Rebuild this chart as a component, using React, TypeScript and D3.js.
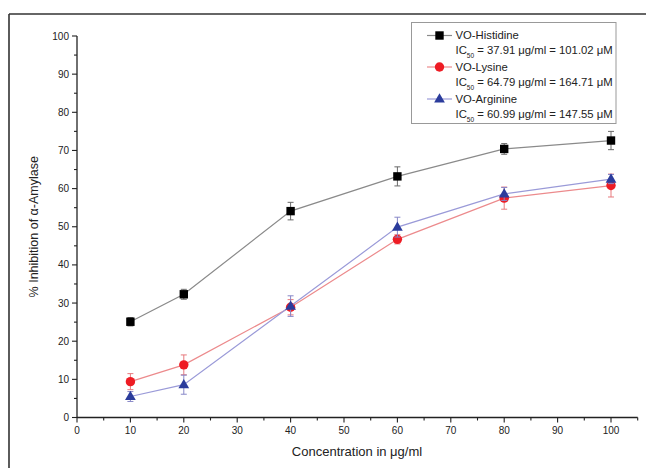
import React from "react";
import * as d3 from "d3";

const concentrations = [10, 20, 40, 60, 80, 100];
const histidine = [25.1, 32.3, 54.1, 63.2, 70.4, 72.6];
const histidineErr = [1.1, 1.3, 2.3, 2.5, 1.4, 2.4];
const lysine = [9.4, 13.8, 28.9, 46.7, 57.5, 60.8];
const lysineErr = [2.1, 2.6, 2.0, 1.2, 2.9, 3.0];
const arginine = [5.5, 8.6, 29.2, 49.9, 58.6, 62.5];
const arginineErr = [1.3, 2.5, 2.7, 2.6, 1.7, 1.2];
const seriesNames = ["VO-Histidine", "VO-Lysine", "VO-Arginine"];
const ic50Ug = ["37.91", "64.79", "60.99"];
const ic50Um = ["101.02", "164.71", "147.55"];
const xTicks = [0, 10, 20, 30, 40, 50, 60, 70, 80, 90, 100];
const yTicks = [0, 10, 20, 30, 40, 50, 60, 70, 80, 90, 100];

const W = 646;
const H = 468;
const FONT = "'Liberation Sans', Arial, sans-serif";

const x = d3.scaleLinear().domain([0, 100]).range([77, 611]);
const y = d3.scaleLinear().domain([0, 100]).range([417.5, 36]);

type Series = {
  name: string;
  values: number[];
  errs: number[];
  marker: "square" | "circle" | "triangle";
  markerColor: string;
  lineColor: string;
  errColor: string;
};

const series: Series[] = [
  { name: seriesNames[0], values: histidine, errs: histidineErr, marker: "square", markerColor: "#000000", lineColor: "#8a8a8a", errColor: "#6a6a6a" },
  { name: seriesNames[1], values: lysine, errs: lysineErr, marker: "circle", markerColor: "#ee1c24", lineColor: "#ec8a8c", errColor: "#e77a7e" },
  { name: seriesNames[2], values: arginine, errs: arginineErr, marker: "triangle", markerColor: "#2b3c9c", lineColor: "#9a9ad8", errColor: "#8888c8" },
];

function Marker({ kind, cx, cy, color }: { kind: string; cx: number; cy: number; color: string }) {
  if (kind === "square") {
    return <rect x={cx - 4.2} y={cy - 4.2} width={8.4} height={8.4} fill={color} />;
  }
  if (kind === "circle") {
    return <circle cx={cx} cy={cy} r={4.7} fill={color} />;
  }
  const sym = d3.symbol().type(d3.symbolTriangle).size(50)();
  return <path d={sym || ""} transform={`translate(${cx},${cy + 0.5})`} fill={color} />;
}

export default function App() {
  const line = d3
    .line<number>()
    .x((_, i) => x(concentrations[i]))
    .y((d) => y(d));

  const minorX = d3.range(0, 106, 5);
  const minorY = d3.range(0, 101, 5);

  const legendX = 411.5;
  const legendY = 22.5;
  const rowY = [35.5, 50, 67, 82, 99, 114];

  return (
    <svg
      width={W}
      height={H}
      viewBox={`0 0 ${W} ${H}`}
      style={{ position: "absolute", left: 0, top: 0, background: "#fff" }}
      fontFamily={FONT}
    >
      <rect x={0} y={0} width={W} height={H} fill="#fff" />
      {/* frame */}
      <line x1={9} y1={14} x2={W} y2={14} stroke="#333" strokeWidth={1.6} />
      <line x1={9} y1={14} x2={9} y2={H} stroke="#333" strokeWidth={1.6} />

      {/* y axis */}
      <line x1={x(0)} y1={y(0)} x2={x(0)} y2={y(100)} stroke="#222" strokeWidth={1.3} />
      {minorY.map((v) => (
        <line
          key={"ym" + v}
          x1={x(0)}
          x2={x(0) - (v % 10 === 0 ? 5 : 3)}
          y1={y(v)}
          y2={y(v)}
          stroke="#222"
          strokeWidth={1.1}
        />
      ))}
      {yTicks.map((v) => (
        <text key={"yt" + v} x={x(0) - 8} y={y(v)} dy="0.35em" textAnchor="end" fontSize={10} fill="#222">
          {v}
        </text>
      ))}

      {/* x axis */}
      <line x1={x(0)} y1={y(0)} x2={x(105)} y2={y(0)} stroke="#222" strokeWidth={1.3} />
      {minorX.map((v) => (
        <line
          key={"xm" + v}
          x1={x(v)}
          x2={x(v)}
          y1={y(0)}
          y2={y(0) + (v % 10 === 0 ? 5 : 3)}
          stroke="#222"
          strokeWidth={1.1}
        />
      ))}
      {xTicks.map((v) => (
        <text key={"xt" + v} x={x(v)} y={y(0) + 16} textAnchor="middle" fontSize={10} fill="#222">
          {v}
        </text>
      ))}

      {/* axis titles */}
      <text x={357} y={456} textAnchor="middle" fontSize={13} fill="#222">
        Concentration in μg/ml
      </text>
      <text
        transform={`translate(37.5, ${(y(0) + y(100)) / 2}) rotate(-90)`}
        textAnchor="middle"
        fontSize={12.5}
        fill="#222"
      >
        % Inhibition of α-Amylase
      </text>

      {/* series */}
      {series.map((s) => (
        <g key={s.name}>
          <path d={line(s.values) || ""} fill="none" stroke={s.lineColor} strokeWidth={1.2} />
          {s.values.map((v, i) => {
            const cx = x(concentrations[i]);
            const top = y(v + s.errs[i]);
            const bot = y(v - s.errs[i]);
            return (
              <g key={i} stroke={s.errColor} strokeWidth={1}>
                <line x1={cx} x2={cx} y1={top} y2={bot} />
                <line x1={cx - 3} x2={cx + 3} y1={top} y2={top} />
                <line x1={cx - 3} x2={cx + 3} y1={bot} y2={bot} />
              </g>
            );
          })}
          {s.values.map((v, i) => (
            <Marker key={"m" + i} kind={s.marker} cx={x(concentrations[i])} cy={y(v)} color={s.markerColor} />
          ))}
        </g>
      ))}

      {/* legend */}
      <rect x={legendX} y={legendY} width={204.5} height={101} fill="#fff" stroke="#999" strokeWidth={1} />
      {series.map((s, k) => {
        const ny = rowY[k * 2];
        const iy = rowY[k * 2 + 1];
        return (
          <g key={"lg" + k}>
            <line x1={427} x2={452} y1={ny} y2={ny} stroke={s.lineColor} strokeWidth={1.2} />
            <Marker kind={s.marker} cx={439.5} cy={ny} color={s.markerColor} />
            <text x={455.5} y={ny} dy="0.35em" fontSize={11.3} fill="#222">
              {s.name}
            </text>
            <text x={455.5} y={iy} dy="0.35em" fontSize={11.3} fill="#222">
              IC
              <tspan fontSize={6.5} dy={4}>50</tspan>
              <tspan dy={-4}>{` = ${ic50Ug[k]} μg/ml = ${ic50Um[k]} μM`}</tspan>
            </text>
          </g>
        );
      })}
    </svg>
  );
}
